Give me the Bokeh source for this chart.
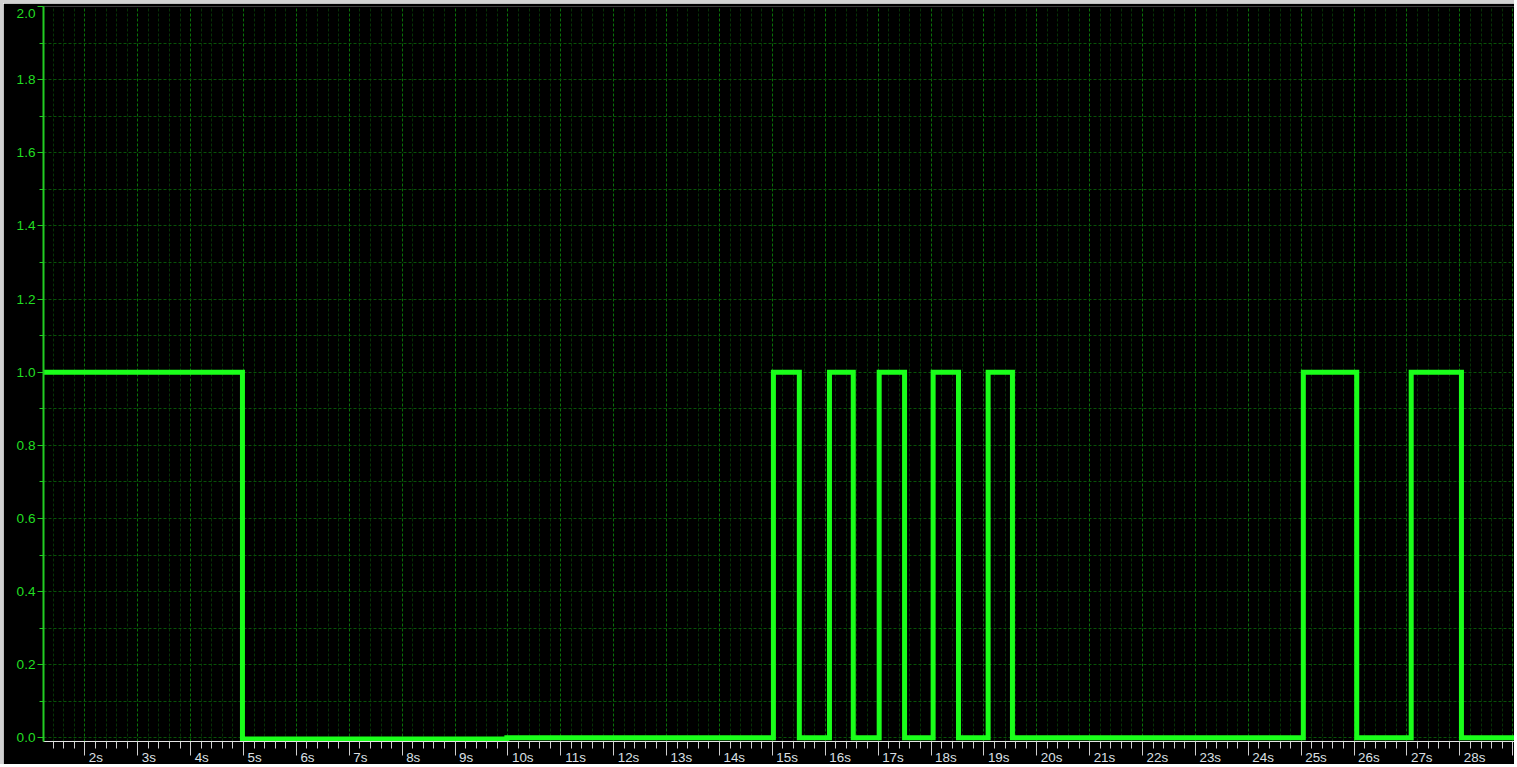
from bokeh.plotting import figure
from bokeh.models import Range1d, LinearAxis, FixedTicker
from bokeh.embed import file_html
from bokeh.resources import INLINE

# ---- data ----
edge_times = [1.218, 4.98, 9.98, 15.02, 15.51, 16.08, 16.53, 17.02, 17.50,
              18.04, 18.52, 19.08, 19.54, 25.04, 26.05, 27.08, 28.03, 29.09]
edge_values = [1, -0.003, 0, 1, 0, 1, 0, 1, 0, 1, 0, 1, 0, 1, 0, 1, 0, 0]

second_ticks = list(range(1, 30))
second_labels = [f"{s}s" for s in second_ticks]
y_ticks = [0.0, 0.2, 0.4, 0.6, 0.8, 1.0, 1.2, 1.4, 1.6, 1.8, 2.0]
y_labels = ["0.0", "0.2", "0.4", "0.6", "0.8", "1.0", "1.2", "1.4", "1.6", "1.8", "2.0"]

X0, X1 = 1.218, 29.09
Y0, Y1 = -0.01, 2.0
EDGE = 3
W, H = 1517 - EDGE, 767 - EDGE
LEFT, TOP, BOTTOM = 43 - EDGE, 6 - EDGE, 26
px_per_s = (W - LEFT) / (X1 - X0)
px_per_unit = (H - TOP - BOTTOM) / (Y1 - Y0)

p = figure(width=W, height=H, x_range=Range1d(X0, X1), y_range=Range1d(Y0, Y1),
           output_backend="svg", toolbar_location=None,
           background_fill_color="black", border_fill_color="black",
           min_border_left=LEFT, min_border_right=0, min_border_top=TOP,
           min_border_bottom=BOTTOM)
p.outline_line_color = None
p.styles = {"border-top": f"{EDGE}px solid #d2d2d2", "border-left": f"{EDGE}px solid #d2d2d2"}

# x ticker: whole seconds with 0.2 s minor ticks
minor_x = [round(s + k * 0.2, 3) for s in range(1, 30) for k in range(1, 5)]
x_ticker = FixedTicker(ticks=second_ticks, minor_ticks=minor_x)

xa = p.xaxis[0]
xa.ticker = x_ticker
xa.axis_line_color = "#e6e6e6"
xa.axis_line_width = 1
xa.major_tick_line_color = "#cfcfcf"
xa.minor_tick_line_color = "#cfcfcf"
xa.major_tick_out = 14
xa.major_tick_in = 0
xa.minor_tick_out = 7
xa.minor_tick_in = 0
xa.major_label_text_font_size = "0px"
xa.major_label_standoff = 0
xa.major_label_overrides = {t: "" for t in second_ticks}

# label axis: labels sit just to the right of each whole-second tick
font_px = 13.4
label_pos = {}
for s, lab in zip(second_ticks, second_labels):
    w = font_px * (0.556 * (len(lab) - 1) + 0.5)
    label_pos[round(s + (4 + w / 2) / px_per_s, 4)] = lab
la = LinearAxis(ticker=FixedTicker(ticks=list(label_pos.keys())))
la.major_label_overrides = label_pos
la.axis_line_color = None
la.major_tick_line_color = None
la.minor_tick_line_color = None
la.major_tick_out = 0
la.major_tick_in = 0
la.major_label_standoff = -6
la.major_label_text_color = "#dde0e6"
la.major_label_text_font = "Liberation Sans"
la.major_label_text_font_size = f"{font_px}px"
p.add_layout(la, "below")

# y axis: line and ticks
y_ticker = FixedTicker(ticks=y_ticks, minor_ticks=[round(0.1 + 0.2 * k, 2) for k in range(10)])
ya = p.yaxis[0]
ya.ticker = y_ticker
ya.major_label_overrides = {t: "" for t in y_ticks}
ya.major_label_text_font_size = "0px"
ya.major_label_standoff = 0
ya.axis_line_color = "#22cc22"
ya.axis_line_width = 2
ya.major_tick_line_color = "#22cc22"
ya.minor_tick_line_color = "#22cc22"
ya.major_tick_out = 6
ya.major_tick_in = 0
ya.minor_tick_out = 4
ya.minor_tick_in = 0

# y labels (the top one is pushed down so it stays inside the window, as in the reference)
ylab_pos = {}
for t, lab in zip(y_ticks, y_labels):
    pos = t if t < Y1 else round(Y1 - 6.5 / px_per_unit, 4)
    ylab_pos[pos] = lab
yl = LinearAxis(ticker=FixedTicker(ticks=list(ylab_pos.keys())))
yl.major_label_overrides = ylab_pos
yl.axis_line_color = None
yl.major_tick_line_color = None
yl.minor_tick_line_color = None
yl.major_tick_out = 0
yl.major_tick_in = 0
yl.major_label_standoff = 2
yl.major_label_text_color = "#22dd22"
yl.major_label_text_font = "Liberation Sans"
yl.major_label_text_font_size = "13.6px"
p.add_layout(yl, "left")

# grids
xg = p.xgrid[0]
xg.ticker = x_ticker
xg.grid_line_color = "#097209"
xg.grid_line_dash = "3 2"
xg.minor_grid_line_color = "#063306"
xg.minor_grid_line_dash = "3 2"

yg = p.ygrid[0]
yg.ticker = y_ticker
yg.grid_line_color = "#085208"
yg.grid_line_dash = "3 2"
yg.minor_grid_line_color = "#085208"
yg.minor_grid_line_dash = "3 2"

# signal
p.step(edge_times, edge_values, mode="after", line_color="#1aff1a",
       line_width=5, line_join="miter")

open("out.html", "w").write(file_html(p, INLINE))
